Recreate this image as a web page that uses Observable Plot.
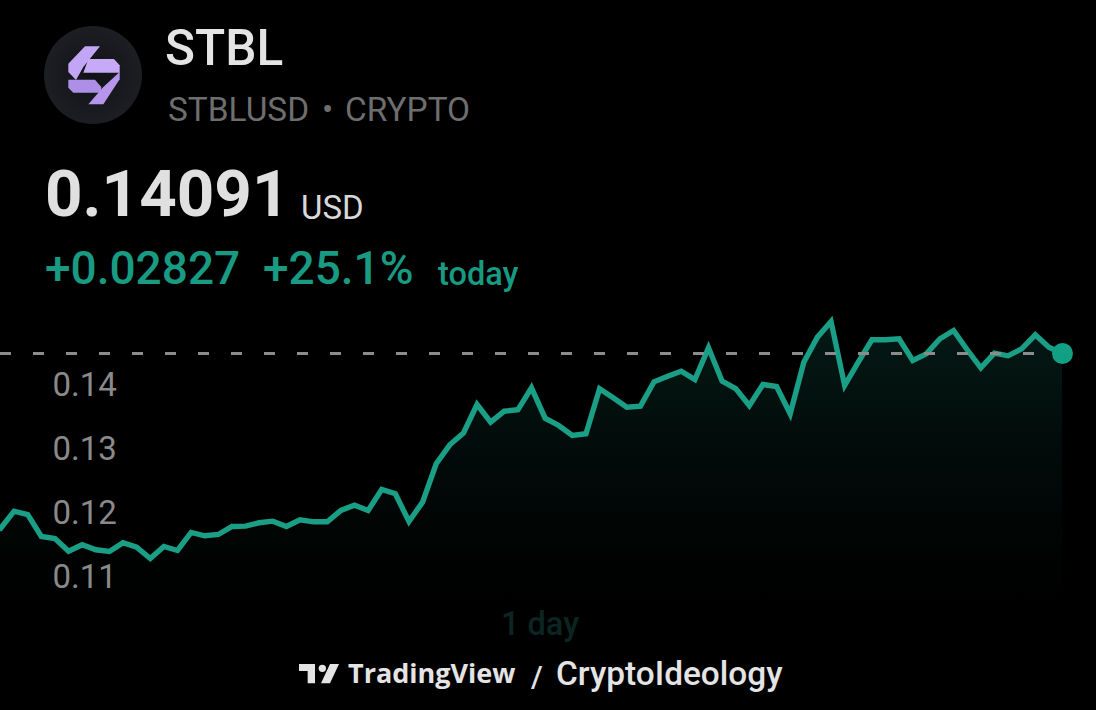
<!DOCTYPE html>
<html>
<head>
<meta charset="utf-8">
<script src="https://cdn.jsdelivr.net/npm/d3@7"></script>
<script src="https://cdn.jsdelivr.net/npm/@observablehq/plot@0.6"></script>
<style>
  html, body { margin: 0; padding: 0; background: #000; width: 1096px; height: 710px; overflow: hidden; }
  body { font-family: Roboto, sans-serif; position: relative; }
  .t { position: absolute; white-space: nowrap; line-height: 1; }
  #chart { position: absolute; left: 0; top: 300px; }
  #chart svg { display: block; background: transparent; }
</style>
</head>
<body>
<svg style="position:absolute;left:40px;top:22px" width="106" height="106" viewBox="0 0 318 318">
  <defs><radialGradient id="logoBg" cx="0.5" cy="0.5" r="0.5"><stop offset="0" stop-color="#101215"/><stop offset="1" stop-color="#1c1e23"/></radialGradient></defs>
  <circle cx="159" cy="159" r="147" fill="url(#logoBg)"/>
  <g>
    <polygon points="135,73 180,73 130,135 108,174 85,150 85,125" fill="#c3a5f5"/>
    <polygon points="145,111 222,111 239,130 239,152 130,152" fill="#c7aaf7"/>
    <polygon points="85,173 165,173 184,195 184,212 100,212 85,197" fill="#ae8fe8"/>
    <polygon points="239,150 239,172 190,247 145,247 190,195" fill="#b596ec"/>
  </g>
</svg>
<div class="t" style="left:165px;top:24px;font-size:49.5px;font-weight:500;color:#e4e4e4">STBL</div>
<div class="t" style="left:168px;top:93px;font-size:33.4px;color:#6e6e6e">STBLUSD</div>
<div class="t" style="left:322px;top:93px;font-size:33.4px;color:#6e6e6e">•</div>
<div class="t" style="left:345px;top:93px;font-size:33.4px;color:#6e6e6e">CRYPTO</div>
<div class="t" style="left:45px;top:161px;font-size:65.5px;font-weight:700;color:#e0e0e0">0.14091</div>
<div class="t" style="left:301px;top:191px;font-size:33px;color:#d8d8d8">USD</div>
<div class="t" style="left:45px;top:245px;font-size:46px;font-weight:500;color:#189b82">+0.02827</div>
<div class="t" style="left:263px;top:245px;font-size:46px;font-weight:500;color:#189b82">+25.1%</div>
<div class="t" style="left:438px;top:258px;font-size:32.5px;font-weight:500;color:#189b82">today</div>
<div id="chart"></div>
<div class="t" style="left:501px;top:608px;font-size:32.5px;font-weight:500;color:#0b2622">1 day</div>
<svg style="position:absolute;left:295px;top:655px" width="70" height="40" viewBox="0 0 210 120">
  <g fill="#e4e4e4">
    <polygon points="12,27 60,27 60,85 38,85 38,48 12,48"/>
    <circle cx="82" cy="40" r="11"/>
    <polygon points="105,27 132,27 105,85 78,85"/>
  </g>
</svg>
<div class="t" style="left:348px;top:659px;font-family:'Open Sans',sans-serif;font-weight:700;font-size:27px;color:#e4e4e4">TradingView</div>
<div class="t" style="left:531px;top:662px;font-size:30px;font-weight:500;color:#e4e4e4">/</div>
<div class="t" style="left:556px;top:657px;font-size:33.4px;font-weight:500;color:#e4e4e4">CryptoIdeology</div>

<script>
const prices = [
  0.11357, 0.11627, 0.11575, 0.11232, 0.11200, 0.11002, 0.11102, 0.11024, 0.10997, 0.11133,
  0.11064, 0.10888, 0.11075, 0.11013, 0.11294, 0.11243, 0.11263, 0.11388, 0.11393, 0.11446,
  0.11471, 0.11388, 0.11493, 0.11461, 0.11461, 0.11638, 0.11721, 0.11638, 0.11966, 0.11899,
  0.11466, 0.11768, 0.12368, 0.12664, 0.12846, 0.13294, 0.13018, 0.13189, 0.13211, 0.13555,
  0.13080, 0.12966, 0.12810, 0.12836, 0.13539, 0.13399, 0.13252, 0.13268, 0.13649, 0.13736,
  0.13814, 0.13685, 0.14180, 0.13658, 0.13544, 0.13278, 0.13607, 0.13575, 0.13149, 0.13955,
  0.14346, 0.14591, 0.13591, 0.13955, 0.14305, 0.14305, 0.14321, 0.13982, 0.14086, 0.14321,
  0.14450, 0.14149, 0.13868, 0.14096, 0.14055, 0.14164, 0.14383, 0.14189, 0.14091
];
const tickValues = [0.11, 0.12, 0.13, 0.14];
const lastPrice = 0.14091;
const baselinePrice = 0.1023;

const rows = prices.map((price, i) => ({i, price}));
const last = rows[rows.length - 1];

const chart = Plot.plot({
  width: 1096,
  height: 330,
  margin: 0,
  style: {background: "transparent", fontFamily: "Roboto, sans-serif"},
  x: {domain: [0, prices.length - 1], range: [0, 1062], axis: null},
  y: {domain: [0.10, 0.14919], range: [314.8, 0]},
  marks: [
    () => {
      const ns = "http://www.w3.org/2000/svg";
      const defs = document.createElementNS(ns, "defs");
      const g = document.createElementNS(ns, "linearGradient");
      g.setAttribute("id", "fade");
      g.setAttribute("x1", "0"); g.setAttribute("y1", "0");
      g.setAttribute("x2", "0"); g.setAttribute("y2", "1");
      [["0", 0.16], ["0.5", 0.065], ["1", 0]].forEach(([o, a]) => {
        const s = document.createElementNS(ns, "stop");
        s.setAttribute("offset", o);
        s.setAttribute("stop-color", "#1a9e85");
        s.setAttribute("stop-opacity", a);
        g.appendChild(s);
      });
      defs.appendChild(g);
      return defs;
    },
    Plot.areaY(rows, {x: "i", y1: baselinePrice, y2: "price", fill: "url(#fade)"}),
    Plot.axisY(tickValues, {
      anchor: "left", tickSize: 0, tickPadding: 0, label: null,
      textAnchor: "start", dx: 52, dy: 26, fontSize: 33, fontWeight: 400,
      fill: "#8a8a8a", tickFormat: d3.format(".2f")
    }),
    Plot.lineY(rows, {x: "i", y: "price", stroke: "#1a9e85", strokeWidth: 5.4, strokeLinejoin: "miter", strokeMiterlimit: 4}),
    Plot.ruleY([lastPrice], {x1: 0, x2: last.i, stroke: "#8c8c8c", strokeWidth: 2.8, strokeDasharray: "11,22"}),
    Plot.dot([last], {x: "i", y: "price", r: 10.5, fill: "#12a085", stroke: "none"})
  ]
});
document.getElementById("chart").appendChild(chart);
</script>
</body>
</html>
